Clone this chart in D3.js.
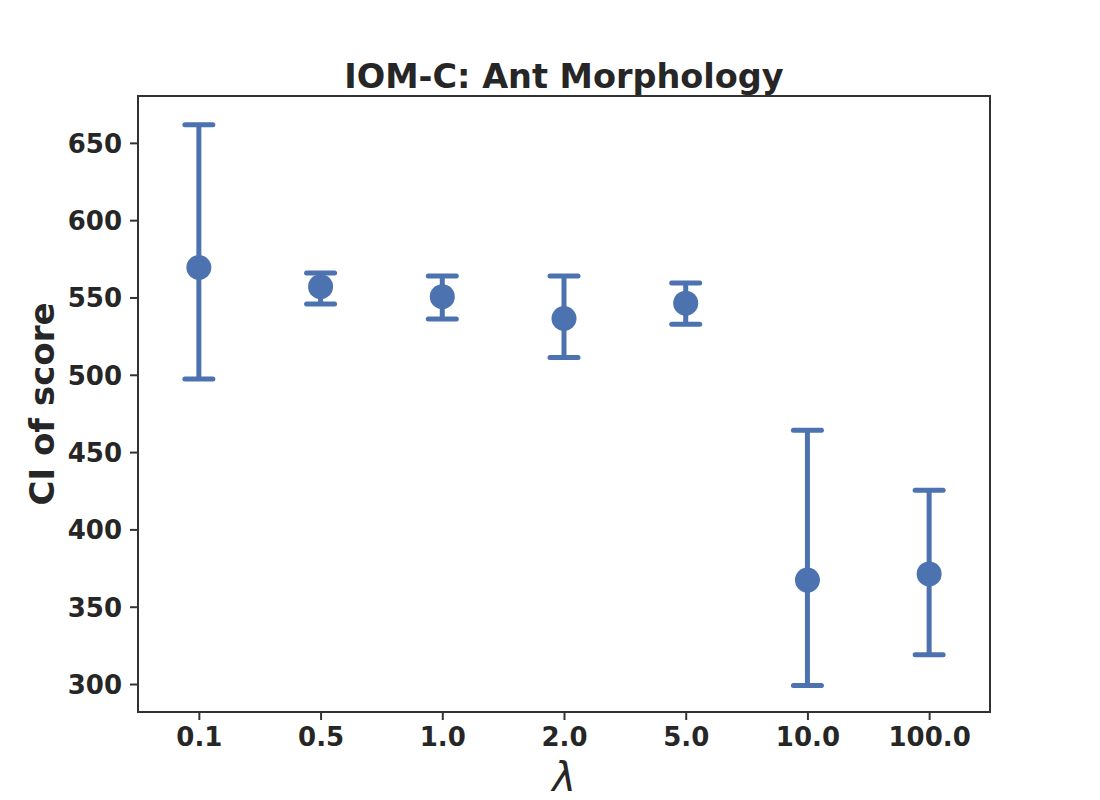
<!DOCTYPE html>
<html>
<head>
<meta charset="utf-8">
<script src="https://cdn.jsdelivr.net/npm/d3@7"></script>
<style>
  body { margin: 0; background: #fff; }
  text { font-family: "DejaVu Sans", sans-serif; fill: #262626; }
</style>
</head>
<body>
<svg id="chart" width="1100" height="800"></svg>
<script>
// 値
const lambdas = ["0.1", "0.5", "1.0", "2.0", "5.0", "10.0", "100.0"];
const means = [569.4, 557.0, 550.5, 536.4, 546.3, 367.2, 371.2];
const lower = [497.2, 545.7, 536.0, 511.2, 532.7, 299.0, 319.0];
const upper = [661.7, 565.8, 563.9, 563.9, 559.3, 464.1, 425.3];
const yTicks = [300, 350, 400, 450, 500, 550, 600, 650];

const svg = d3.select("#chart");

// 描画領域
const mLeft = 138, mRight = 990, mTop = 96, mBottom = 712;
const blue = "#4c72b0";
const spine = "#333333";

// x はカテゴリ位置 (-0.5 〜 n-0.5)
const x = d3.scaleLinear()
  .domain([-0.5, lambdas.length - 0.5])
  .range([mLeft, mRight]);

const y = d3.scaleLinear()
  .domain([281.9, 680.3])
  .range([mBottom, mTop]);

// 軸
const xAxis = d3.axisBottom(x)
  .tickValues(d3.range(lambdas.length))
  .tickFormat(i => lambdas[i])
  .tickSize(8)
  .tickPadding(8);

const yAxis = d3.axisLeft(y)
  .tickValues(yTicks)
  .tickSize(8)
  .tickPadding(8);

const gx = svg.append("g")
  .attr("transform", `translate(0,${mBottom})`)
  .call(xAxis);

const gy = svg.append("g")
  .attr("transform", `translate(${mLeft},0)`)
  .call(yAxis);

[gx, gy].forEach(g => {
  g.select(".domain").remove();
  g.selectAll(".tick line").attr("stroke", spine).attr("stroke-width", 2);
  g.selectAll(".tick text")
    .attr("fill", "#262626")
    .attr("font-size", "26px")
    .attr("font-weight", "bold")
    .attr("font-family", "DejaVu Sans");
});
gy.selectAll(".tick text").attr("dy", "0.36em");

// 枠線
svg.append("rect")
  .attr("x", mLeft)
  .attr("y", mTop)
  .attr("width", mRight - mLeft)
  .attr("height", mBottom - mTop)
  .attr("fill", "none")
  .attr("stroke", spine)
  .attr("stroke-width", 2);

// エラーバー
const capW = 14;
const g = svg.append("g");

g.selectAll("line.bar")
  .data(lambdas)
  .enter()
  .append("line")
  .attr("class", "bar")
  .attr("x1", (d, i) => x(i))
  .attr("x2", (d, i) => x(i))
  .attr("y1", (d, i) => y(lower[i]))
  .attr("y2", (d, i) => y(upper[i]))
  .attr("stroke", blue)
  .attr("stroke-width", 5);

[lower, upper].forEach(arr => {
  g.selectAll(null)
    .data(arr)
    .enter()
    .append("line")
    .attr("x1", (d, i) => x(i) - capW)
    .attr("x2", (d, i) => x(i) + capW)
    .attr("y1", d => y(d))
    .attr("y2", d => y(d))
    .attr("stroke", blue)
    .attr("stroke-width", 5)
    .attr("stroke-linecap", "round");
});

g.selectAll("circle")
  .data(means)
  .enter()
  .append("circle")
  .attr("cx", (d, i) => x(i))
  .attr("cy", d => y(d))
  .attr("r", 12.5)
  .attr("fill", blue);

// タイトル
svg.append("text")
  .attr("x", (mLeft + mRight) / 2)
  .attr("y", 88)
  .attr("text-anchor", "middle")
  .attr("font-size", "33.5px")
  .attr("font-weight", "bold")
  .text("IOM-C: Ant Morphology");

// 軸ラベル
svg.append("text")
  .attr("transform", `translate(54,${(mTop + mBottom) / 2}) rotate(-90)`)
  .attr("text-anchor", "middle")
  .attr("font-size", "34px")
  .attr("font-weight", "bold")
  .text("CI of score");

svg.append("text")
  .attr("x", (mLeft + mRight) / 2)
  .attr("y", 791)
  .attr("text-anchor", "middle")
  .attr("font-size", "40px")
  .attr("font-style", "italic")
  .text("λ");
</script>
</body>
</html>
